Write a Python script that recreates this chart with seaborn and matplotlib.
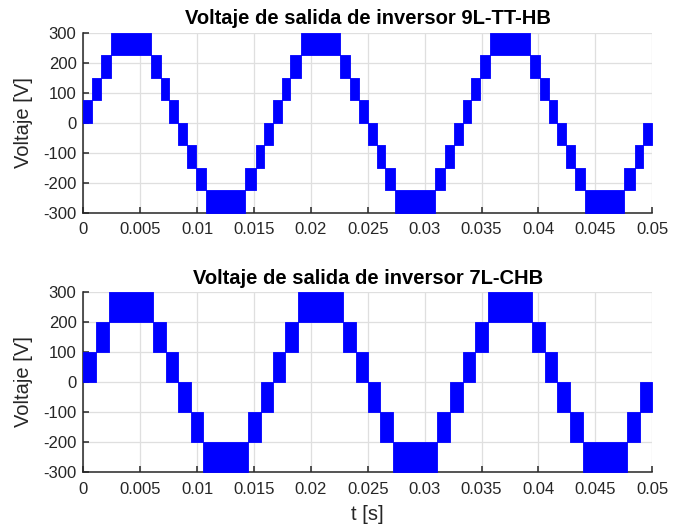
import numpy as np
import matplotlib
matplotlib.use("Agg")
import matplotlib.pyplot as plt
from matplotlib.ticker import FuncFormatter
import seaborn as sns

# Step edges [s] and lower level of each PWM band
t_9L = [0, 0.00077, 0.00153, 0.00243, 0.0059, 0.0068, 0.00756, 0.00833,
        0.0091, 0.00986, 0.01076, 0.01424, 0.01514, 0.0159, 0.01667,
        0.01744, 0.0182, 0.0191, 0.02257, 0.02347, 0.02423, 0.025,
        0.02577, 0.02653, 0.02743, 0.0309, 0.0318, 0.03257, 0.03333,
        0.0341, 0.03486, 0.03576, 0.03923, 0.04013, 0.0409, 0.04167,
        0.04243, 0.0432, 0.0441, 0.04757, 0.04847, 0.04923, 0.05]
lo_9L = [0, 75, 150, 225, 150, 75, 0, -75, -150, -225, -300, -225, -150, -75,
         0, 75, 150, 225, 150, 75, 0, -75, -150, -225, -300, -225, -150, -75,
         0, 75, 150, 225, 150, 75, 0, -75, -150, -225, -300, -225, -150, -75]
step_9L = 75

t_7L = [0, 0.00108, 0.00222, 0.00611, 0.00725, 0.00833, 0.00941, 0.01055,
        0.01444, 0.01558, 0.01667,
        0.01775, 0.01889, 0.02278, 0.02392, 0.025, 0.02608, 0.02722,
        0.03111, 0.03225, 0.03333,
        0.03441, 0.03555, 0.03944, 0.04058, 0.04167, 0.04275, 0.04389,
        0.04778, 0.04892, 0.05]
lo_7L = [0, 100, 200, 100, 0, -100, -200, -300, -200, -100,
         0, 100, 200, 100, 0, -100, -200, -300, -200, -100,
         0, 100, 200, 100, 0, -100, -200, -300, -200, -100]
step_7L = 100

titles = ["Voltaje de salida de inversor 9L-TT-HB",
          "Voltaje de salida de inversor 7L-CHB"]
x_ticks = [0, 0.005, 0.01, 0.015, 0.02, 0.025, 0.03, 0.035, 0.04, 0.045, 0.05]
y_ticks = [-300, -200, -100, 0, 100, 200, 300]

sns.set_theme(style="whitegrid")
plt.rcParams['font.family'] = ['Liberation Sans', 'DejaVu Sans']
plt.rcParams['axes.unicode_minus'] = False

fig = plt.figure(figsize=(6.81, 5.29), dpi=100)
ax1 = fig.add_axes([0.1226, 0.598, 0.835, 0.34])
ax2 = fig.add_axes([0.1226, 0.108, 0.835, 0.34])

for ax, t, lo, step, title in [(ax1, t_9L, lo_9L, step_9L, titles[0]),
                               (ax2, t_7L, lo_7L, step_7L, titles[1])]:
    lo_arr = np.array(lo + [lo[-1]], dtype=float)
    ax.fill_between(t, lo_arr, lo_arr + step, step='post',
                    color='#0000ff', linewidth=0.6, edgecolor='#0000ff', zorder=3)
    ax.set_xlim(0, 0.05)
    ax.set_ylim(-300, 300)
    ax.set_xticks(x_ticks)
    ax.set_yticks(y_ticks)
    ax.xaxis.set_major_formatter(FuncFormatter(lambda v, p: "%g" % round(v, 4)))
    ax.grid(True, color='#dfdfdf', linewidth=0.9)
    ax.set_facecolor('white')
    for s in ['top', 'right']:
        ax.spines[s].set_visible(False)
    for s in ['left', 'bottom']:
        ax.spines[s].set_color('#262626')
        ax.spines[s].set_linewidth(1.1)
    ax.tick_params(axis='x', pad=7)
    ax.tick_params(direction='in', length=4.5, width=1.1, color='#262626',
                   labelsize=12, labelcolor='#262626',
                   left=True, bottom=True)
    ax.tick_params(axis='y', pad=5)
    ax.set_ylabel("Voltaje [V]", fontsize=14.5, color='#262626', labelpad=7)
    ax.set_title(title, fontsize=14.5, fontweight='bold', color='black', pad=6)

ax2.set_xlabel("t [s]", fontsize=14.5, color='#262626', labelpad=6)

fig.savefig("out.png", dpi=100, facecolor='white')
